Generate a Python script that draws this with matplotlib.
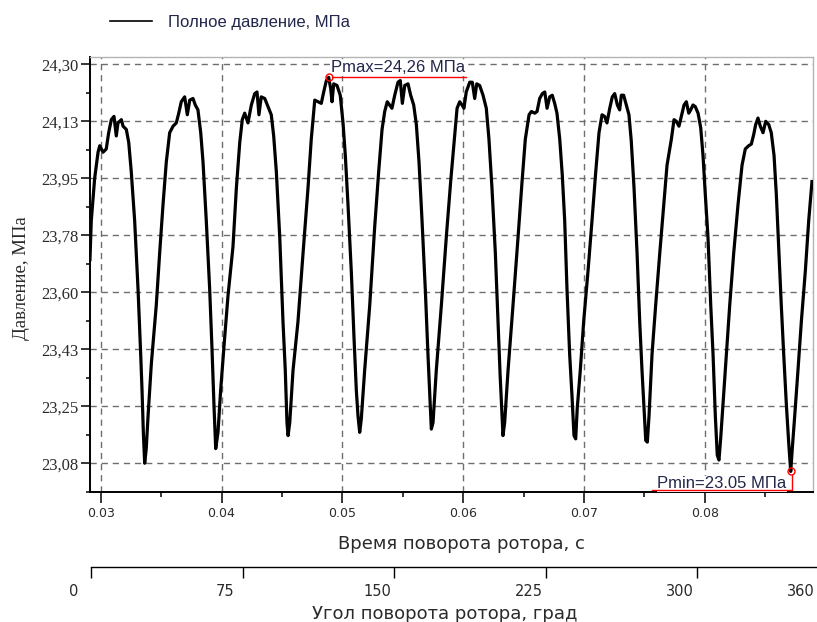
import matplotlib
matplotlib.use("Agg")
import matplotlib.pyplot as plt
import matplotlib.transforms as mtransforms
from matplotlib.lines import Line2D
from matplotlib.ticker import AutoMinorLocator

# Data
time_s = [
    0.02911, 0.02922, 0.02950, 0.02978, 0.02992, 0.03019, 0.03046, 0.03066, 0.03088, 0.03110,
    0.03129, 0.03143, 0.03171, 0.03185, 0.03212, 0.03232, 0.03253, 0.03281, 0.03309, 0.03331,
    0.03342, 0.03353, 0.03364, 0.03377, 0.03392, 0.03419, 0.03460, 0.03488, 0.03516, 0.03543,
    0.03571, 0.03599, 0.03626, 0.03646, 0.03667, 0.03695, 0.03717, 0.03737, 0.03764, 0.03783,
    0.03805, 0.03828, 0.03847, 0.03874, 0.03902, 0.03921, 0.03938, 0.03952, 0.03971, 0.03993,
    0.04026, 0.04054, 0.04095, 0.04123, 0.04151, 0.04172, 0.04192, 0.04219, 0.04247, 0.04275,
    0.04294, 0.04310, 0.04329, 0.04358, 0.04385, 0.04412, 0.04432, 0.04454, 0.04482, 0.04509,
    0.04528, 0.04542, 0.04551, 0.04565, 0.04592, 0.04633, 0.04675, 0.04716, 0.04743, 0.04772,
    0.04799, 0.04826, 0.04846, 0.04868, 0.04887, 0.04904, 0.04915, 0.04929, 0.04956, 0.04983,
    0.05006, 0.05025, 0.05047, 0.05075, 0.05097, 0.05116, 0.05130, 0.05144, 0.05157, 0.05185,
    0.05227, 0.05268, 0.05301, 0.05329, 0.05351, 0.05372, 0.05392, 0.05411, 0.05434, 0.05461,
    0.05480, 0.05497, 0.05517, 0.05544, 0.05566, 0.05591, 0.05613, 0.05635, 0.05660, 0.05687,
    0.05709, 0.05724, 0.05737, 0.05751, 0.05778, 0.05820, 0.05861, 0.05897, 0.05925, 0.05950,
    0.05972, 0.05991, 0.06007, 0.06026, 0.06055, 0.06076, 0.06096, 0.06113, 0.06137, 0.06165,
    0.06192, 0.06214, 0.06239, 0.06267, 0.06289, 0.06306, 0.06322, 0.06330, 0.06344, 0.06372,
    0.06413, 0.06455, 0.06488, 0.06515, 0.06546, 0.06565, 0.06593, 0.06612, 0.06634, 0.06656,
    0.06676, 0.06695, 0.06717, 0.06738, 0.06758, 0.06777, 0.06800, 0.06821, 0.06841, 0.06860,
    0.06882, 0.06901, 0.06918, 0.06932, 0.06945, 0.06970, 0.06998, 0.07034, 0.07067, 0.07098,
    0.07125, 0.07150, 0.07172, 0.07191, 0.07214, 0.07235, 0.07255, 0.07277, 0.07296, 0.07310,
    0.07329, 0.07351, 0.07373, 0.07392, 0.07415, 0.07440, 0.07462, 0.07481, 0.07498, 0.07512,
    0.07525, 0.07539, 0.07564, 0.07594, 0.07628, 0.07661, 0.07688, 0.07724, 0.07746, 0.07765,
    0.07787, 0.07806, 0.07829, 0.07848, 0.07868, 0.07884, 0.07903, 0.07922, 0.07945, 0.07967,
    0.07986, 0.08005, 0.08027, 0.08050, 0.08069, 0.08088, 0.08104, 0.08118, 0.08132, 0.08151,
    0.08179, 0.08207, 0.08240, 0.08276, 0.08309, 0.08336, 0.08364, 0.08386, 0.08406, 0.08422,
    0.08441, 0.08460, 0.08483, 0.08505, 0.08530, 0.08551, 0.08574, 0.08593, 0.08615, 0.08634,
    0.08654, 0.08676, 0.08695, 0.08712, 0.08725, 0.08745, 0.08772, 0.08800, 0.08833, 0.08861,
    0.08888,
]
pressure_mpa = [
    23.70, 23.82, 23.95, 24.03, 24.05, 24.03, 24.04, 24.09, 24.13, 24.14,
    24.08, 24.12, 24.13, 24.11, 24.10, 24.06, 23.97, 23.82, 23.61, 23.41,
    23.30, 23.17, 23.075, 23.12, 23.22, 23.38, 23.56, 23.72, 23.87, 24.00,
    24.09, 24.11, 24.12, 24.15, 24.185, 24.20, 24.145, 24.19, 24.195, 24.175,
    24.16, 24.09, 24.00, 23.82, 23.61, 23.43, 23.25, 23.12, 23.17, 23.30,
    23.46, 23.59, 23.74, 23.92, 24.06, 24.13, 24.15, 24.12, 24.175, 24.21,
    24.215, 24.145, 24.20, 24.195, 24.17, 24.145, 24.08, 23.97, 23.77, 23.51,
    23.36, 23.20, 23.16, 23.20, 23.36, 23.51, 23.72, 23.92, 24.07, 24.19,
    24.185, 24.18, 24.215, 24.25, 24.26, 24.225, 24.185, 24.24, 24.235, 24.205,
    24.12, 24.02, 23.87, 23.66, 23.46, 23.30, 23.22, 23.17, 23.21, 23.36,
    23.56, 23.80, 23.97, 24.10, 24.155, 24.185, 24.175, 24.165, 24.205, 24.245,
    24.25, 24.18, 24.235, 24.24, 24.205, 24.175, 24.115, 24.00, 23.82, 23.61,
    23.41, 23.285, 23.18, 23.20, 23.36, 23.56, 23.77, 23.94, 24.06, 24.165,
    24.185, 24.175, 24.165, 24.215, 24.245, 24.245, 24.195, 24.24, 24.235, 24.205,
    24.165, 24.07, 23.92, 23.72, 23.51, 23.35, 23.22, 23.16, 23.20, 23.36,
    23.56, 23.77, 23.94, 24.07, 24.145, 24.155, 24.15, 24.155, 24.195, 24.21,
    24.215, 24.165, 24.20, 24.205, 24.18, 24.15, 24.07, 23.96, 23.82, 23.61,
    23.41, 23.285, 23.16, 23.15, 23.245, 23.36, 23.51, 23.665, 23.82, 23.97,
    24.09, 24.145, 24.14, 24.12, 24.165, 24.20, 24.21, 24.175, 24.16, 24.205,
    24.205, 24.175, 24.145, 24.065, 23.92, 23.72, 23.51, 23.36, 23.245, 23.145,
    23.14, 23.22, 23.41, 23.56, 23.72, 23.87, 23.99, 24.07, 24.13, 24.125,
    24.11, 24.14, 24.175, 24.185, 24.15, 24.16, 24.175, 24.17, 24.15, 24.105,
    24.02, 23.90, 23.77, 23.56, 23.41, 23.22, 23.10, 23.085, 23.15, 23.255,
    23.41, 23.56, 23.72, 23.87, 23.99, 24.04, 24.05, 24.055, 24.085, 24.115,
    24.135, 24.11, 24.09, 24.125, 24.115, 24.09, 24.02, 23.90, 23.72, 23.56,
    23.41, 23.255, 23.14, 23.05, 23.12, 23.22, 23.36, 23.51, 23.665, 23.82,
    23.94,
]

pmax_t, pmax_p = 0.04887, 24.26
pmin_t, pmin_p = 0.08712, 23.05

xticks = [0.03, 0.04, 0.05, 0.06, 0.07, 0.08]
xtick_labels = ['0.03', '0.04', '0.05', '0.06', '0.07', '0.08']
yticks = [23.075, 23.25, 23.425, 23.60, 23.775, 23.95, 24.125, 24.30]
ytick_labels = ['23,08', '23,25', '23,43', '23,60', '23,78', '23,95', '24,13', '24,30']
angle_ticks = [0, 75, 150, 225, 300, 360]

W, H = 817, 622
fig = plt.figure(figsize=(W / 100, H / 100), dpi=100)
ax = fig.add_axes([90 / W, 1 - 492 / H, 723 / W, 435 / H])

ax.plot(time_s, pressure_mpa, color='black', lw=2.3, zorder=3, label='Полное давление, МПа')
ax.set_xlim(0.029114, 0.088965)
ax.set_ylim(22.9868, 24.3224)

ax.set_xticks(xticks)
ax.set_xticklabels(xtick_labels, fontsize=9, family='DejaVu Sans', color='#2a2a2a')
ax.set_yticks(yticks)
ax.set_yticklabels(ytick_labels, fontsize=12, family='Liberation Serif', color='#2a2a2a')
ax.xaxis.set_minor_locator(AutoMinorLocator(2))
ax.yaxis.set_minor_locator(AutoMinorLocator(2))
ax.tick_params(axis='x', which='major', length=7.7, width=1.1, pad=3)
ax.tick_params(axis='x', which='minor', length=3.4, width=1.1)
ax.tick_params(axis='y', which='major', length=6.5, width=1.1, pad=2)
ax.tick_params(axis='y', which='minor', length=3.2, width=1.1)

ax.grid(True, which='major', color='#6e6e6e', lw=1, linestyle=(0, (4.5, 3.5)))
ax.set_axisbelow(True)
for side in ['left', 'bottom']:
    ax.spines[side].set_linewidth(1.4)
    ax.spines[side].set_color('black')
for side in ['top', 'right']:
    ax.spines[side].set_linewidth(1.0)
    ax.spines[side].set_color('#b4b4b4')

# Pmax / Pmin markers and labels
ann_color = '#22264a'
ax.plot([pmax_t], [pmax_p], 'o', mfc='none', mec='red', ms=5, mew=1, zorder=8, clip_on=False)
ax.plot([pmin_t], [pmin_p], 'o', mfc='none', mec='red', ms=5, mew=1, zorder=8, clip_on=False)
ax.annotate('Pmax=24,26 МПа', xy=(pmax_t, pmax_p), xytext=(2, 5), textcoords='offset pixels',
            ha='left', va='baseline', fontsize=12, family='Liberation Sans', color=ann_color,
            bbox=dict(fc='white', ec='none', pad=0.5), zorder=6, annotation_clip=False)
ax.annotate('Pmin=23.05 МПа', xy=(pmin_t, pmin_p), xytext=(-4, -17), textcoords='offset pixels',
            ha='right', va='baseline', fontsize=12, family='Liberation Sans', color=ann_color,
            bbox=dict(fc='white', ec='none', pad=0.5), zorder=6, annotation_clip=False)

# red leader lines, placed in pixels around the marked points
mx, my = ax.transData.transform((pmax_t, pmax_p))
fig.add_artist(Line2D([(mx + 3) / W, (mx + 137) / W], [my / H, my / H],
                      transform=fig.transFigure, color='red', lw=1, zorder=9))
nx, ny = ax.transData.transform((pmin_t, pmin_p))
fig.add_artist(Line2D([(nx - 139) / W, (nx + 1) / W, (nx + 1) / W],
                      [(ny - 19) / H, (ny - 19) / H, (ny - 4) / H],
                      transform=fig.transFigure, color='red', lw=1, zorder=9))

# Legend at top
leg = ax.legend(loc='center left', bbox_to_anchor=(110 / W, 1 - 22 / H),
                bbox_transform=fig.transFigure, frameon=False, borderpad=0,
                borderaxespad=0, handlelength=2.5, handletextpad=0.95,
                prop={'family': 'Liberation Sans', 'size': 12})
for txt in leg.get_texts():
    txt.set_color(ann_color)
for ln in leg.get_lines():
    ln.set_linewidth(1.2)

# Axis labels
fig.text(22 / W, 1 - 278 / H, 'Давление, МПа', rotation=90, ha='center', va='center',
         fontsize=13.5, family='Liberation Serif', color='#2a2a2a')
fig.text(461 / W, 1 - 544 / H, 'Время поворота ротора, с', ha='center', va='center',
         fontsize=13, family='DejaVu Sans', color='#2a2a2a')

# Second axis: rotation angle
ax2 = fig.add_axes([91 / W, 1 - 567 / H, 727.2 / W, 0.0001])
ax2.set_xlim(0, 360)
ax2.set_yticks([])
for side in ['top', 'left', 'right']:
    ax2.spines[side].set_visible(False)
ax2.spines['bottom'].set_linewidth(1.0)
ax2.patch.set_alpha(0)
ax2.set_xticks(angle_ticks)
ax2.set_xticklabels([str(a) for a in angle_ticks], fontsize=10.5, family='DejaVu Sans',
                    color='#2a2a2a')
ax2.tick_params(axis='x', length=8, width=1.0, pad=4.5)
shift = mtransforms.ScaledTranslation(-17 / 100, 0, fig.dpi_scale_trans)
for lbl in ax2.get_xticklabels():
    lbl.set_transform(lbl.get_transform() + shift)
fig.text(445 / W, 1 - 614 / H, 'Угол поворота ротора, град', ha='center', va='center',
         fontsize=13, family='DejaVu Sans', color='#2a2a2a')

fig.savefig('out.png', dpi=100)
